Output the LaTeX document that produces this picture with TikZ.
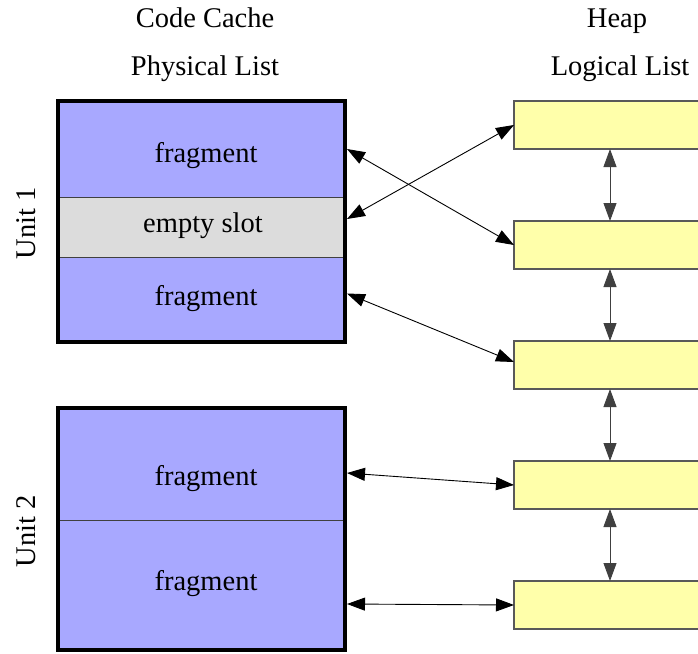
\documentclass[tikz,border=0pt]{standalone}
\usepackage{fontspec}
\setmainfont{Liberation Serif}
\usetikzlibrary{arrows.meta}
\definecolor{fragblue}{RGB}{168,168,255}
\definecolor{slotgray}{RGB}{220,220,220}
\definecolor{heapyellow}{RGB}{255,255,170}
\begin{document}
\begin{tikzpicture}[x=1pt,y=-1pt,
  every node/.style={font=\fontsize{28.5}{33}\selectfont, inner sep=0pt, outer sep=0pt},
  txt/.style={anchor=base},
  slot/.style={draw=black!75, line width=1pt, minimum width=287pt, anchor=north west},
  frag/.style={slot, fill=fragblue},
  emptyslot/.style={slot, fill=slotgray},
  unitbox/.style={draw=black, line width=4pt, minimum width=287pt, anchor=north west},
  heapbox/.style={draw=black!65, line width=1.2pt, fill=heapyellow, minimum width=192pt, minimum height=48pt, anchor=north west},
  link/.style={{Triangle[length=18pt,width=13pt]}-{Triangle[length=18pt,width=13pt]}, line width=0.9pt, draw=black},
  vlink/.style={link, draw=black!75}]
\useasboundingbox (0,0) rectangle (698,653);
\clip (0,0) rectangle (698,653);
% titles
\node[txt] (cc) at (205,27.5) {Code Cache};
\node[txt] (pl) at (205,75) {Physical List};
\node[txt] (hp) at (617,27.5) {Heap};
\node[txt] (ll) at (620,75) {Logical List};
% unit labels
\node[txt, rotate=90] (ul1) at (35,223) {Unit 1};
\node[txt, rotate=90] (ul2) at (35,531) {Unit 2};
% unit 1
\node[frag, minimum height=96pt] (f1) at (58,101) {};
\node[emptyslot, minimum height=60pt] (e1) at (58,197) {};
\node[frag, minimum height=85pt] (f2) at (58,257) {};
\node[unitbox, minimum height=241pt] (u1) at (58,101) {};
% unit 2
\node[frag, minimum height=112pt] (f3) at (58,408) {};
\node[frag, minimum height=130pt] (f4) at (58,520) {};
\node[unitbox, minimum height=242pt] (u2) at (58,408) {};
% slot texts
\node[txt] (t1) at (206,162) {fragment};
\node[txt] (t2) at (203,232) {empty slot};
\node[txt] (t3) at (206,305) {fragment};
\node[txt] (t4) at (206,485) {fragment};
\node[txt] (t5) at (206,590) {fragment};
% heap
\node[heapbox] (b1) at (514,101) {};
\node[heapbox] (b2) at (514,221) {};
\node[heapbox] (b3) at (514,341) {};
\node[heapbox] (b4) at (514,461) {};
\node[heapbox] (b5) at (514,581) {};
% links
\draw[link] ([xshift=2pt]f1.east) -- (b2.west);
\draw[link] ([xshift=2pt,yshift=8pt]e1.east) -- (b1.west);
\draw[link] ([xshift=2pt,yshift=6pt]f2.east) -- ([yshift=3pt]b3.west);
\draw[link] ([xshift=2pt,yshift=-9pt]f3.east) -- (b4.west);
\draw[link] ([xshift=2pt,yshift=-19pt]f4.east) -- (b5.west);
\draw[vlink] (b1.south) -- (b2.north);
\draw[vlink] (b2.south) -- (b3.north);
\draw[vlink] (b3.south) -- (b4.north);
\draw[vlink] (b4.south) -- (b5.north);
\end{tikzpicture}
\end{document}
